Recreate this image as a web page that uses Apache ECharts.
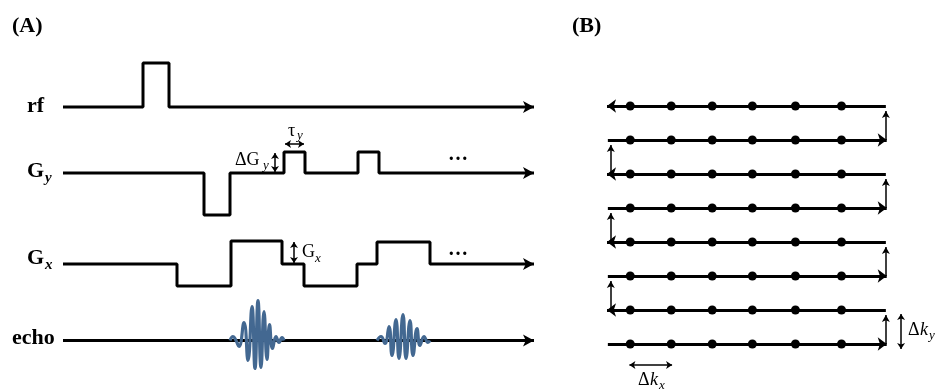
<!DOCTYPE html>
<html>
<head>
<meta charset="utf-8">
<title>EPI sequence and k-space</title>
<script src="https://cdn.jsdelivr.net/npm/echarts@6/dist/echarts.min.js"></script>
<style>
  html, body { margin: 0; padding: 0; background: #fff; }
  #chart { width: 936px; height: 390px; }
</style>
</head>
<body>
<div id="chart"></div>
<script>
// (A) pulse sequence: time of each change and the level held from it
var rfTimes = [0, 80, 106, 471];
var rfLevels = [0, 44, 0, 0];
var gyTimes = [0, 141, 167, 221, 242, 295, 316, 471];
var gyLevels = [0, -42, 0, 21, 0, 21, 0, 0];
var gxTimes = [0, 114, 168, 219, 241, 294, 314, 367, 471];
var gxLevels = [0, -22, 23, 0, -22, 0, 22, 0, 0];
var echoBaseTimes = [0, 471];
var echoBaseLevels = [0, 0];
// echo signals, read peak by peak
var echo1Times = [167, 170, 173, 176, 181, 185, 189, 192, 195, 198, 201, 204, 206.5, 209.5, 213, 216, 219, 221];
var echo1Levels = [0, 4, 0, -6, 18, -20, 34, -28, 40, -27, 29, -19, 16, -8, 4, -2, 3, 0];
var echo2Times = [314, 318, 322, 326, 329, 333, 336, 340, 343, 347, 350, 354, 357, 361, 365, 367];
var echo2Levels = [0, 4, -3, 14, -15, 21, -18, 26, -18, 20, -15, 12, -5, 4, -2, 0];

// (B) k-space sampling
var kxDots = [1, 1.97, 2.94, 3.89, 4.91, 6];
var kyRows = [0, 1, 2, 3, 4, 5, 6, 7];
var kxStart = 0.47;
var kxEnd = 7.05;

// baseline of each channel on the panel A y axis
var chanBase = { rf: 273, gy: 207, gx: 116, echo: 39.5 };

var serif = '"Liberation Serif", "Times New Roman", serif';
var myChart = echarts.init(document.getElementById('chart'));

function zip(xs, ys, off) {
  return xs.map(function (x, i) { return [x, ys[i] + off]; });
}

// square wave channel with an arrow at the end of the time axis
function stepSeries(times, levels, base) {
  var data = zip(times, levels, base);
  var last = data.length - 1;
  data[last] = { value: data[last], symbol: 'arrow', symbolSize: [9, 11], symbolRotate: -90 };
  return {
    type: 'line',
    xAxisIndex: 0,
    yAxisIndex: 0,
    step: 'end',
    symbol: 'none',
    showSymbol: true,
    data: data,
    lineStyle: { color: '#000', width: 3 },
    itemStyle: { color: '#000' },
    z: 2
  };
}

function echoSeries(times, levels) {
  return {
    type: 'line',
    xAxisIndex: 0,
    yAxisIndex: 0,
    smooth: 0.5,
    symbol: 'none',
    data: zip(times, levels, chanBase.echo),
    lineStyle: { color: '#436891', width: 3.2 },
    z: 3
  };
}

function arrowLine(from, to, width, size, both) {
  var ls = { color: '#000', width: width, type: 'solid' };
  return [
    { coord: from, symbol: both ? 'arrow' : 'none', symbolSize: size, lineStyle: ls },
    { coord: to, symbol: 'arrow', symbolSize: size, lineStyle: ls }
  ];
}

// panel A annotations (ΔGy, τy, Gx)
function seqMarks() {
  return [
    arrowLine([212, chanBase.gy + 1], [212, chanBase.gy + 20], 1.5, [6, 6], true),
    arrowLine([222, chanBase.gy + 29], [241, chanBase.gy + 29], 1.5, [6, 6], true),
    arrowLine([231, chanBase.gx + 1], [231, chanBase.gx + 22], 1.5, [6, 6], true)
  ];
}

// panel B trajectory: rows alternate direction, blips at the ends
function trajectoryMarks() {
  var lines = [];
  kyRows.forEach(function (ky, i) {
    var right = ky % 2 === 0;
    if (right) {
      lines.push(arrowLine([kxStart, ky], [kxEnd + 0.02, ky], 3, [10, 9], false));
    } else {
      lines.push(arrowLine([kxEnd, ky], [kxStart - 0.02, ky], 3, [10, 9], false));
    }
    if (i < kyRows.length - 1) {
      var kx = right ? kxEnd : kxStart + 0.07;
      lines.push(arrowLine([kx, ky], [kx, kyRows[i + 1] - 0.15], 1.5, [6, 7], false));
    }
  });
  // Δkx and Δky
  lines.push(arrowLine([kxDots[0] - 0.02, -0.62], [kxDots[1] + 0.02, -0.62], 1.5, [6, 6], true));
  lines.push(arrowLine([7.41, -0.15], [7.41, 0.88], 1.5, [6, 6], true));
  return lines;
}

function dotData() {
  var pts = [];
  kyRows.forEach(function (ky) {
    kxDots.forEach(function (kx) { pts.push([kx, ky]); });
  });
  return pts;
}

function txt(x, y, text, font) {
  return {
    type: 'text', x: x, y: y, silent: true, z: 10,
    style: { text: text, font: font, fill: '#000', align: 'left', verticalAlign: 'middle' }
  };
}

var bold = 'bold 22px ' + serif;
var subBold = 'italic bold 15px ' + serif;
var norm = '18px ' + serif;
var subIt = 'italic 13px ' + serif;

var option = {
  animation: false,
  grid: [
    { left: 63, top: 40, width: 472, height: 340 },
    { left: 588, top: 72, width: 338, height: 306 }
  ],
  xAxis: [
    { type: 'value', gridIndex: 0, min: 0, max: 472, show: false },
    { type: 'value', gridIndex: 1, min: 0, max: 8, show: false }
  ],
  yAxis: [
    { type: 'value', gridIndex: 0, min: 0, max: 340, show: false },
    { type: 'value', gridIndex: 1, min: -1, max: 8, show: false }
  ],
  series: [
    stepSeries(rfTimes, rfLevels, chanBase.rf),
    stepSeries(gyTimes, gyLevels, chanBase.gy),
    stepSeries(gxTimes, gxLevels, chanBase.gx),
    stepSeries(echoBaseTimes, echoBaseLevels, chanBase.echo),
    echoSeries(echo1Times, echo1Levels),
    echoSeries(echo2Times, echo2Levels),
    {
      type: 'scatter',
      xAxisIndex: 0,
      yAxisIndex: 0,
      data: [],
      silent: true,
      markLine: { silent: true, animation: false, label: { show: false }, data: seqMarks() }
    },
    {
      type: 'scatter',
      xAxisIndex: 1,
      yAxisIndex: 1,
      symbol: 'circle',
      symbolSize: 9,
      itemStyle: { color: '#000', opacity: 1 },
      data: dotData(),
      z: 3,
      markLine: { silent: true, animation: false, label: { show: false }, data: trajectoryMarks() }
    }
  ],
  graphic: [
    txt(12, 26, '(A)', bold),
    txt(572, 26, '(B)', bold),
    txt(27, 106, 'rf', bold),
    txt(27, 171, 'G', bold),
    txt(45, 178, 'y', subBold),
    txt(27, 258, 'G', bold),
    txt(45, 265, 'x', subBold),
    txt(12, 338, 'echo', bold),
    txt(235, 160, '\u0394G', norm),
    txt(263, 166, 'y', subIt),
    txt(288, 131, '\u03c4', norm),
    txt(297, 136, 'y', subIt),
    txt(302, 252, 'G', norm),
    txt(315, 259, 'x', subIt),
    txt(448, 155, '\u2026', 'bold 20px ' + serif),
    txt(448, 250, '\u2026', 'bold 20px ' + serif),
    txt(638, 380, '\u0394', norm),
    txt(650, 380, 'k', 'italic 18px ' + serif),
    txt(659, 386, 'x', subIt),
    txt(908, 330, '\u0394', norm),
    txt(920, 330, 'k', 'italic 18px ' + serif),
    txt(929, 336, 'y', subIt)
  ]
};

myChart.setOption(option);
</script>
</body>
</html>
